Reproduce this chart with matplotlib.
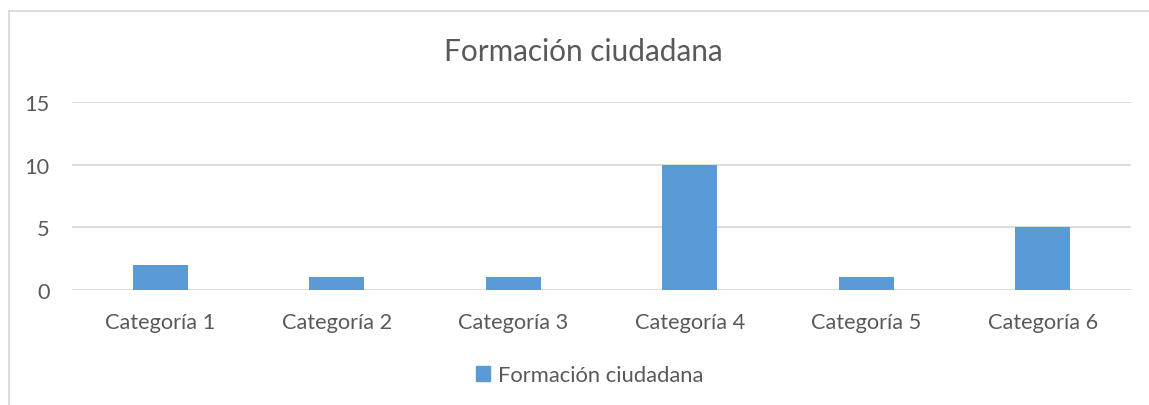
import matplotlib
matplotlib.use("Agg")
import matplotlib.pyplot as plt
from matplotlib.lines import Line2D
from matplotlib.patches import Patch

categories = ["Categoría 1", "Categoría 2", "Categoría 3", "Categoría 4", "Categoría 5", "Categoría 6"]
values = [2, 1, 1, 10, 1, 5]
series_name = "Formación ciudadana"
title = "Formación ciudadana"
yticks = [0, 5, 10, 15]

W, H = 1149, 406
plt.rcParams['font.family'] = ['Lato', 'DejaVu Sans']
txt = "#595959"
bar_color = "#5B9BD5"
grid = "#D9D9D9"

fig = plt.figure(figsize=(W/100, H/100), dpi=100)
# chart frame (only left and top edges visible; the rest is cropped)
fig.add_artist(Line2D([8.5/W, 8.5/W], [0, 1 - 11.5/H], transform=fig.transFigure,
                      color=grid, linewidth=1.3))
fig.add_artist(Line2D([8.5/W, 1], [1 - 11.5/H, 1 - 11.5/H], transform=fig.transFigure,
                      color=grid, linewidth=1.3))
ax = fig.add_axes([72/W, 1 - 291/H, (1131-72)/W, (291-103)/H])
x = list(range(len(categories)))
ax.bar(x, values, width=0.31, color=bar_color, zorder=3)
ax.set_xlim(-0.5, len(categories) - 0.5)
ax.set_ylim(0, 15)
ax.set_yticks(yticks)
ax.set_xticks(x)
ax.set_xticklabels(categories)
ax.tick_params(axis='both', length=0, colors=txt, labelsize=15.7)
ax.tick_params(axis='x', pad=15.5)
ax.tick_params(axis='y', pad=16)
for s in ax.spines.values():
    s.set_visible(False)
ax.yaxis.grid(True, color=grid, linewidth=1.3, zorder=0)
ax.set_axisbelow(True)
fig.text(0.508, 1 - 52/H, title, ha='center', va='center', fontsize=21.4, color=txt)
fig.legend(handles=[Patch(color=bar_color, label=series_name)], loc='center',
           bbox_to_anchor=(0.513, 1 - 376/H), frameon=False, fontsize=15.8,
           labelcolor=txt, handlelength=0.65, handleheight=0.65, handletextpad=0.35)
fig.savefig("out.png", dpi=100)
